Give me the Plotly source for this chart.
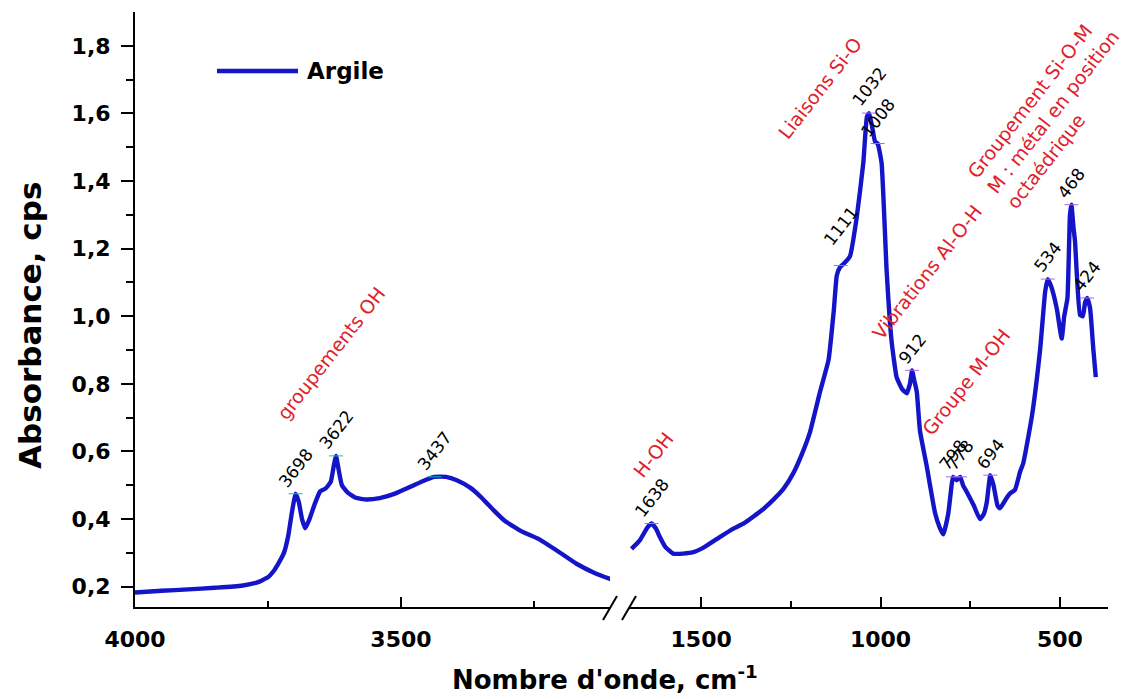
import plotly.graph_objects as go

# ---------------- data ----------------
left_wn = [4000, 3950, 3900, 3850, 3800, 3770, 3750, 3740, 3730, 3720, 3712, 3705,
           3698, 3692, 3686, 3680, 3672, 3662, 3652, 3642, 3632, 3626, 3622, 3617,
           3611, 3600, 3585, 3565, 3540, 3510, 3480, 3455, 3437, 3415, 3395, 3370,
           3350, 3325, 3305, 3275, 3240, 3205, 3170, 3135, 3102]
left_abs = [0.183, 0.188, 0.192, 0.197, 0.203, 0.213, 0.228, 0.245, 0.270, 0.300, 0.350, 0.420,
            0.475, 0.450, 0.400, 0.373, 0.400, 0.445, 0.482, 0.490, 0.510, 0.560, 0.587, 0.545,
            0.500, 0.478, 0.463, 0.458, 0.462, 0.476, 0.497, 0.515, 0.525, 0.525, 0.515, 0.493,
            0.466, 0.425, 0.395, 0.365, 0.340, 0.305, 0.268, 0.240, 0.220]

right_wn = [1694, 1671, 1650, 1638, 1626, 1615, 1600, 1578, 1550, 1522, 1490, 1448,
            1410, 1380, 1355, 1330, 1299, 1270, 1243, 1220, 1197, 1169, 1145, 1130,
            1122, 1113, 1100, 1085, 1066, 1048, 1038, 1032, 1025, 1015, 1008, 997,
            983, 969, 955, 940, 927, 918, 912, 906, 899, 890, 871, 848, 835, 825,
            811, 803, 798, 788, 778, 770, 760, 740, 723, 712, 704, 694, 685, 674,
            667, 650, 639, 625, 611, 602, 578, 555, 541, 534, 525, 509, 495, 488,
            479, 472, 468, 462, 458, 444, 436, 430, 424, 416, 407, 400]
right_abs = [0.312, 0.337, 0.375, 0.387, 0.372, 0.347, 0.318, 0.298, 0.298, 0.302, 0.318, 0.347,
             0.372, 0.388, 0.407, 0.427, 0.457, 0.490, 0.536, 0.590, 0.656, 0.775, 0.870, 1.020,
             1.120, 1.145, 1.158, 1.178, 1.295, 1.453, 1.590, 1.601, 1.570, 1.516, 1.511, 1.453,
             1.136, 0.925, 0.819, 0.785, 0.772, 0.800, 0.840, 0.810, 0.777, 0.661, 0.555, 0.418, 0.375, 0.355,
             0.418, 0.490, 0.525, 0.515, 0.525, 0.500, 0.481, 0.440, 0.400, 0.415, 0.449, 0.530, 0.500, 0.440,
             0.432, 0.460, 0.476, 0.487, 0.540, 0.566, 0.705, 0.904, 1.074, 1.110, 1.090, 1.024, 0.934, 1.000,
             1.054, 1.300, 1.330, 1.260, 1.223, 1.004, 1.000, 1.040, 1.054, 1.024, 0.904, 0.820]

left_peaks_wn = [3698, 3622, 3437]
left_peaks_abs = [0.475, 0.587, 0.525]
right_peaks_wn = [1638, 1111, 1032, 1008, 912, 798, 778, 694, 534, 468, 424]
right_peaks_abs = [0.387, 1.15, 1.601, 1.511, 0.840, 0.525, 0.525, 0.530, 1.110, 1.330, 1.054]

y_tickvals = [0.2, 0.4, 0.6, 0.8, 1.0, 1.2, 1.4, 1.6, 1.8]
y_ticktext = ["0,2", "0,4", "0,6", "0,8", "1,0", "1,2", "1,4", "1,6", "1,8"]
left_tickvals = [4000, 3500]
left_ticktext = ["4000", "3500"]
right_tickvals = [1500, 1000, 500]
right_ticktext = ["1500", "1000", "500"]

series_name = "Argile"

# ---------------- styling ----------------
BLUE = "#1414c8"
RED = "#e0202a"
W, H = 1136, 699
L, R, T, B = 135, 28, 12, 92
pw, ph = W - L - R, H - T - B


def px(x):
    return (x - L) / pw


def py(y):
    return (H - B - y) / ph


bold = "DejaVu Sans"
LW = 4.4

fig = go.Figure()
fig.add_trace(go.Scatter(x=left_wn, y=left_abs, mode="lines", xaxis="x", yaxis="y",
                         line=dict(color=BLUE, width=LW, shape="spline", smoothing=0.4),
                         showlegend=False, name=series_name))
fig.add_trace(go.Scatter(x=right_wn, y=right_abs, mode="lines", xaxis="x2", yaxis="y",
                         line=dict(color=BLUE, width=LW, shape="spline", smoothing=0.4),
                         showlegend=False, name=series_name))
# red peak markers
fig.add_trace(go.Scatter(x=left_peaks_wn, y=left_peaks_abs, mode="markers", xaxis="x", yaxis="y",
                         marker=dict(symbol="line-ew-open", size=10, line=dict(color=RED, width=1)),
                         showlegend=False, hoverinfo="skip"))
fig.add_trace(go.Scatter(x=right_peaks_wn, y=right_peaks_abs, mode="markers", xaxis="x2", yaxis="y",
                         marker=dict(symbol="line-ew-open", size=10, line=dict(color=RED, width=1)),
                         showlegend=False, hoverinfo="skip"))

annotations = []
ANG = -52
for wn, a in zip(left_peaks_wn, left_peaks_abs):
    annotations.append(dict(x=wn, y=a, xref="x", yref="y", text=str(wn), showarrow=False,
                            textangle=ANG, xanchor="center", yanchor="bottom",
                            font=dict(family="DejaVu Sans", size=17, color="black")))
for wn, a in zip(right_peaks_wn, right_peaks_abs):
    annotations.append(dict(x=wn, y=a, xref="x2", yref="y", text=str(wn), showarrow=False,
                            textangle=ANG, xanchor="center", yanchor="bottom",
                            yshift=14 if wn == 1111 else 0,
                            font=dict(family="DejaVu Sans", size=17, color="black")))

red_labels = [
    ("groupements OH", 331, 353),
    ("H-OH", 653, 455),
    ("Liaisons Si-O", 820, 88),
    ("Vibrations Al-O-H", 927, 272),
    ("Groupe M-OH", 966, 382),
    ("Groupement Si-O-M<br>M : métal en position<br>octaédrique", 1053, 112),
]
for txt, x, y in red_labels:
    annotations.append(dict(x=px(x), y=py(y), xref="paper", yref="paper", text=txt,
                            showarrow=False, textangle=ANG, xanchor="center", yanchor="middle",
                            align="left",
                            font=dict(family="DejaVu Sans", size=19, color=RED)))

# legend (manual)
annotations.append(dict(x=px(305), y=py(71), xref="paper", yref="paper", text=series_name,
                        showarrow=False, xanchor="left", yanchor="middle",
                        font=dict(family=bold, size=23, color="black", weight="bold")))
# x title (spans the broken axis)
annotations.append(dict(x=px(605), y=py(678), xref="paper", yref="paper",
                        text="Nombre d'onde, cm<sup>-1</sup>", showarrow=False,
                        xanchor="center", yanchor="middle",
                        font=dict(family=bold, size=26, color="black", weight="bold")))
# y title
annotations.append(dict(x=px(30), y=py(326), xref="paper", yref="paper",
                        text="Absorbance, cps", showarrow=False, textangle=-90,
                        xanchor="center", yanchor="middle",
                        font=dict(family=bold, size=31, color="black", weight="bold")))

shapes = [
    dict(type="line", xref="paper", yref="paper", x0=px(217), x1=px(298), y0=py(71), y1=py(71),
         line=dict(color=BLUE, width=LW)),
    dict(type="line", xref="paper", yref="paper", x0=px(603), x1=px(617), y0=py(620), y1=py(596),
         line=dict(color="black", width=2)),
    dict(type="line", xref="paper", yref="paper", x0=px(622), x1=px(636), y0=py(620), y1=py(596),
         line=dict(color="black", width=2)),
]

tickfont = dict(family=bold, size=22, color="black", weight="bold")
xcommon = dict(showgrid=False, zeroline=False, showline=True, linecolor="black", linewidth=2,
               ticks="inside", ticklen=10, tickwidth=2, tickcolor="black",
               tickfont=tickfont, anchor="y", ticklabelstandoff=12,
               minor=dict(dtick=250, ticks="inside", ticklen=6, tickwidth=2, tickcolor="black"))

fig.update_layout(
    width=W, height=H,
    margin=dict(l=L, r=R, t=T, b=B, autoexpand=False),
    paper_bgcolor="white", plot_bgcolor="white",
    showlegend=False,
    xaxis=dict(domain=[0, px(610)], range=[4000, 3107], tickvals=left_tickvals,
               ticktext=left_ticktext, tick0=4000, **xcommon),
    xaxis2=dict(domain=[px(629), 1], range=[1701, 366], tickvals=right_tickvals,
                ticktext=right_ticktext, tick0=1000, **xcommon),
    yaxis=dict(range=[0.14, 1.90], showgrid=False, zeroline=False, showline=True,
               linecolor="black", linewidth=2, ticks="outside", ticklen=12, tickwidth=2,
               tickcolor="black", tickvals=y_tickvals, ticktext=y_ticktext, tickfont=tickfont,
               ticklabelstandoff=6,
               minor=dict(tickvals=[0.3, 0.5, 0.7, 0.9, 1.1, 1.3, 1.5, 1.7], ticks="outside",
                          ticklen=7, tickwidth=2, tickcolor="black")),
    annotations=annotations,
    shapes=shapes,
)

fig.write_html("out.html")
